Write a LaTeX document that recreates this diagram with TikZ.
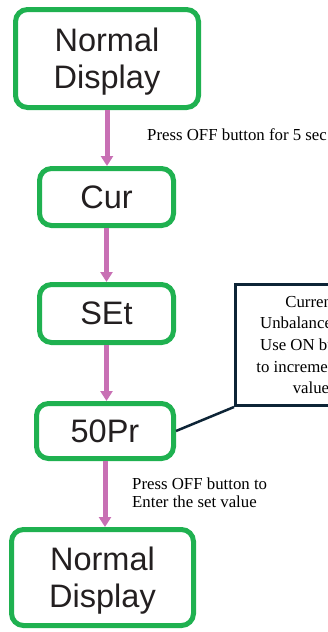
\documentclass[tikz,border=0pt]{standalone}
\usepackage{fontspec}
\setmainfont{Liberation Serif}
\newfontfamily\boxfont{Liberation Sans}
\usetikzlibrary{arrows.meta}
\definecolor{boxgreen}{RGB}{31,177,80}
\definecolor{flowpink}{RGB}{200,112,180}
\definecolor{calloutblue}{RGB}{13,36,54}
\definecolor{textgray}{RGB}{35,31,32}

\begin{document}
\begin{tikzpicture}[x=1pt, y=-1pt,
    stepbox/.style={draw=boxgreen, line width=5pt, rounded corners=12pt,
        fill=white, text=textgray, align=center, inner sep=0pt, text depth=0pt,
        font=\boxfont\fontsize{32.5}{37}\selectfont},
    flow/.style={draw=flowpink, line width=5pt,
        -{Triangle[width=12pt, length=10pt]}},
    note/.style={inner sep=0pt, text=black,
        font=\fontsize{16.8}{18}\selectfont},
    callout/.style={draw=calloutblue, line width=3pt, inner sep=0pt,
        align=center, font=\fontsize{16.8}{21.7}\selectfont},
    calloutline/.style={draw=calloutblue, line width=2.5pt}]
    % Page frame, the callout runs off the right edge
    \useasboundingbox (0,0) rectangle (328,632);
    \clip (0,0) rectangle (328,632);

    % Define the steps
    \node[stepbox, minimum width=183pt, minimum height=98pt] (disp1) at (107,58.5) {Normal\\Display};
    \node[stepbox, minimum width=134pt, minimum height=57pt] (cur) at (106.5,197) {Cur};
    \node[stepbox, minimum width=134pt, minimum height=58pt] (set) at (106.5,313.5) {SEt};
    \node[stepbox, minimum width=137pt, minimum height=55pt] (pr) at (105,431) {50Pr};
    \node[stepbox, minimum width=182pt, minimum height=96pt] (disp2) at (102.5,577.5) {Normal\\Display};

    % Callout box
    \node[callout, minimum width=151pt, minimum height=121pt] (info) at (311,345)
        {Current\\Unbalance Set.\\Use ON button\\to increment the\\value};

    % Labels
    \node[note, anchor=base west] (lbl1) at (147,140) {Press OFF button for 5 sec};
    \node[note, anchor=north west, align=left] (lbl2) at (132,477.5) {Press OFF button to\\Enter the set value};

    % Draw the arrows
    \draw[flow] (disp1.south) -- (disp1.south |- cur.north);
    \draw[flow] (cur) -- (set);
    \draw[flow] (set.south) -- (set.south |- pr.north);
    \draw[flow] (pr.south) -- (pr.south |- disp2.north);
    \draw[calloutline] (info.south west) -- (pr.east);
\end{tikzpicture}
\end{document}
